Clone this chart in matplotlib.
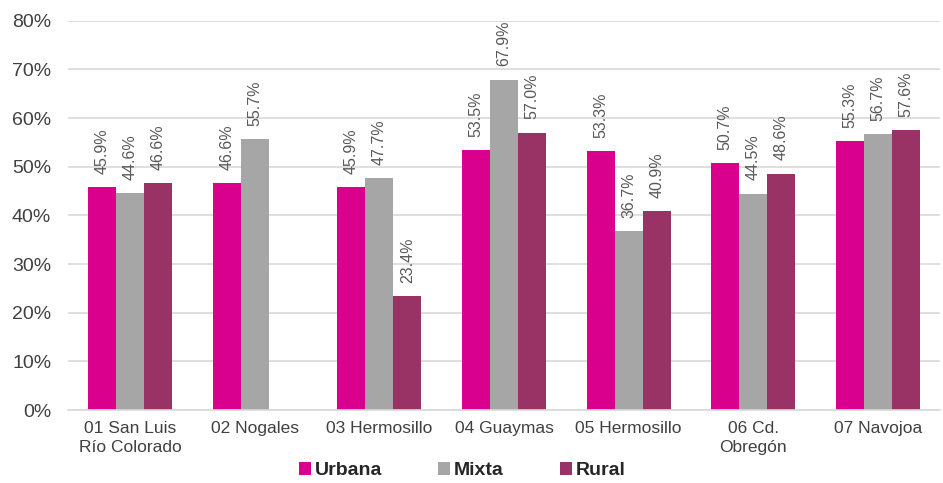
import numpy as np
import matplotlib
matplotlib.use("Agg")
import matplotlib.pyplot as plt
from matplotlib.ticker import FuncFormatter

# data (percent)
categories = ["01 San Luis\nRío Colorado", "02 Nogales", "03 Hermosillo", "04 Guaymas",
              "05 Hermosillo", "06 Cd.\nObregón", "07 Navojoa"]
urbana = [45.9, 46.6, 45.9, 53.5, 53.3, 50.7, 55.3]
mixta = [44.6, 55.7, 47.7, 67.9, 36.7, 44.5, 56.7]
rural = [46.6, None, 23.4, 57.0, 40.9, 48.6, 57.6]

series = [("Urbana", urbana, "#D9008D"),
          ("Mixta", mixta, "#A6A6A6"),
          ("Rural", rural, "#993366")]

plt.rcParams['font.family'] = ['Liberation Sans', 'DejaVu Sans']

fig = plt.figure(figsize=(9.43, 4.83), dpi=100)
ax = fig.add_axes([0.072, 0.151, 0.925, 0.806])

x = np.arange(len(categories))
w = 0.225

for i, (name, vals, color) in enumerate(series):
    pos = x + (i - 1) * w
    for p, v in zip(pos, vals):
        if v is None:
            continue
        ax.bar(p, v, width=w, color=color, zorder=3)
        ax.annotate(f"{v:.1f}%", (p, v), xytext=(0, 9.5), textcoords="offset points",
                    rotation=90, ha="center", va="bottom", fontsize=11.5, color="#595959")
    # legend handle
    ax.bar(np.nan, np.nan, color=color, label=name)

ax.set_xlim(-0.5, len(categories) - 0.5)
ax.set_ylim(0, 80)
ax.set_yticks(np.arange(0, 81, 10))
ax.yaxis.set_major_formatter(FuncFormatter(lambda v, _: f"{v:.0f}%"))
ax.set_xticks(x)
ax.set_xticklabels(categories, fontsize=12.5, color="#404040", linespacing=1.3)
ax.tick_params(axis="y", labelsize=14, colors="#404040", length=0, pad=12)
ax.tick_params(axis="x", length=0, pad=8)

ax.grid(axis="y", color="#D9D9D9", linewidth=1.2, zorder=0)
for s in ["top", "right", "left"]:
    ax.spines[s].set_visible(False)
ax.spines["bottom"].set_color("#D9D9D9")
ax.spines["bottom"].set_linewidth(1.2)
ax.spines["bottom"].set_zorder(4)

leg = fig.legend(loc="center", bbox_to_anchor=(0.49, 0.025), ncol=3, frameon=False,
                 prop={"weight": "bold", "size": 14}, handlelength=0.6, handleheight=0.6,
                 handletextpad=0.2, columnspacing=2.9)
for t in leg.get_texts():
    t.set_color("#262626")

fig.savefig("out.png", dpi=100)
